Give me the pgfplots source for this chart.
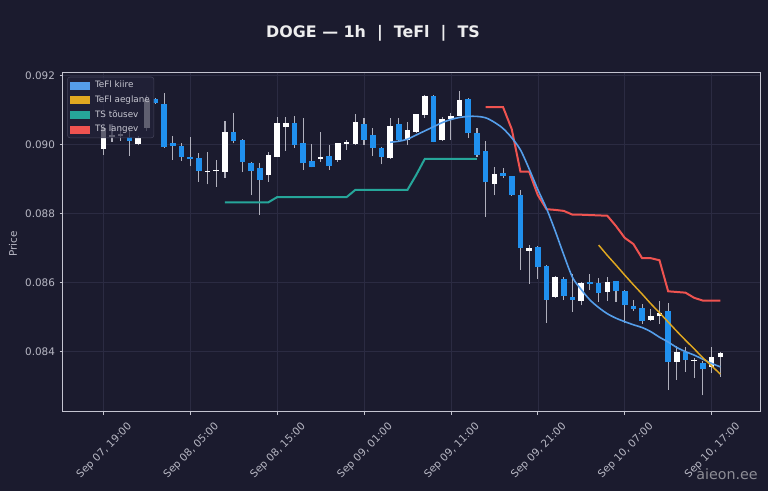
\documentclass[border=0pt]{standalone}
\usepackage{pgfplots}
\pgfplotsset{compat=1.18}
\usepackage{pgfplotstable}
\usepackage{fontspec}
\setmainfont{DejaVu Sans}

\definecolor{bg}{HTML}{1B1B2E}
\definecolor{gridc}{HTML}{2B2B42}
\definecolor{spine}{HTML}{C4C4D0}
\definecolor{tickc}{HTML}{B8B8C4}
\definecolor{wick}{HTML}{B0B0BC}
\definecolor{bearc}{HTML}{2090EE}
\definecolor{kiire}{HTML}{559EEA}
\definecolor{aeglane}{HTML}{E0A820}
\definecolor{tsup}{HTML}{26A69A}
\definecolor{tsdown}{HTML}{EF5350}
\definecolor{legbg}{HTML}{22223A}
\definecolor{legdraw}{HTML}{44445A}
\definecolor{legtext}{HTML}{C8C8D2}

% hourly candles, h = hours after Sep 07 19:00
\pgfplotstableread{
h o hi lo c
0 0.08988 0.09056 0.08970 0.09048
1 0.09022 0.09060 0.09008 0.09027
2 0.09025 0.09055 0.09012 0.09030
4 0.09002 0.09025 0.08998 0.09020
5 0.09048 0.09144 0.09040 0.09130
12 0.08921 0.08979 0.08885 0.08925
13 0.08923 0.08956 0.08878 0.08927
14 0.08921 0.09069 0.08904 0.09038
19 0.08912 0.08980 0.08893 0.08970
20 0.08965 0.09080 0.08963 0.09062
21 0.09052 0.09080 0.08983 0.09062
25 0.08958 0.09038 0.08951 0.08964
27 0.08956 0.09006 0.08951 0.09004
28 0.09002 0.09014 0.08985 0.09007
29 0.09002 0.09089 0.09000 0.09065
33 0.08961 0.09078 0.08959 0.09055
35 0.09014 0.09065 0.08999 0.09043
36 0.09038 0.09090 0.09035 0.09088
37 0.09086 0.09144 0.09078 0.09142
39 0.09014 0.09081 0.09011 0.09075
40 0.09075 0.09091 0.09014 0.09084
41 0.09084 0.09156 0.09083 0.09130
45 0.08886 0.08936 0.08854 0.08914
49 0.08693 0.08709 0.08596 0.08700
52 0.08559 0.08620 0.08557 0.08617
55 0.08548 0.08603 0.08534 0.08600
58 0.08574 0.08615 0.08547 0.08603
63 0.08492 0.08524 0.08490 0.08502
64 0.08502 0.08548 0.08480 0.08512
66 0.08371 0.08415 0.08318 0.08400
68 0.08373 0.08382 0.08323 0.08377
70 0.08357 0.08414 0.08338 0.08385
71 0.08384 0.08398 0.08328 0.08397
}\bull

\pgfplotstableread{
h o hi lo c
3 0.09023 0.09048 0.08967 0.09011
6 0.09131 0.09135 0.09118 0.09121
7 0.09118 0.09149 0.08990 0.08993
8 0.09004 0.09024 0.08956 0.08997
9 0.08996 0.09006 0.08953 0.08965
10 0.08965 0.09022 0.08937 0.08959
11 0.08961 0.08975 0.08893 0.08924
15 0.09038 0.09091 0.09004 0.09011
16 0.09014 0.09016 0.08922 0.08951
17 0.08948 0.08951 0.08854 0.08924
18 0.08932 0.08948 0.08796 0.08898
22 0.09062 0.09083 0.08990 0.08999
23 0.09004 0.09077 0.08927 0.08946
24 0.08954 0.09002 0.08934 0.08936
26 0.08967 0.08999 0.08927 0.08938
30 0.09059 0.09077 0.08999 0.09014
31 0.09028 0.09048 0.08968 0.08990
32 0.08991 0.08993 0.08943 0.08965
34 0.09059 0.09077 0.09011 0.09014
38 0.09142 0.09143 0.09007 0.09009
42 0.09133 0.09134 0.09020 0.09033
43 0.09033 0.09048 0.08965 0.08970
44 0.08982 0.09010 0.08791 0.08891
46 0.08917 0.08932 0.08903 0.08909
47 0.08909 0.08910 0.08852 0.08854
48 0.08854 0.08869 0.08637 0.08700
50 0.08704 0.08706 0.08611 0.08646
51 0.08648 0.08650 0.08484 0.08550
53 0.08610 0.08617 0.08550 0.08562
54 0.08559 0.08625 0.08515 0.08550
56 0.08602 0.08625 0.08579 0.08596
57 0.08598 0.08613 0.08545 0.08570
59 0.08604 0.08605 0.08544 0.08575
60 0.08577 0.08578 0.08482 0.08534
61 0.08533 0.08550 0.08518 0.08525
62 0.08527 0.08538 0.08480 0.08489
65 0.08518 0.08540 0.08289 0.08370
67 0.08400 0.08414 0.08342 0.08376
69 0.08367 0.08373 0.08273 0.08349
}\bear

\pgfplotstableread{
h v
33 0.09007
34 0.09010
35 0.09016
36 0.09028
37 0.09040
38 0.09052
39 0.09064
40 0.09073
41 0.09079
42 0.09082
43 0.09082
44 0.09078
45 0.09065
46 0.09047
47 0.09020
48 0.08985
49 0.08930
50 0.08870
51 0.08815
52 0.08750
53 0.08680
54 0.08615
55 0.08580
56 0.08550
57 0.08528
58 0.08510
59 0.08497
60 0.08487
61 0.08478
62 0.08470
63 0.08458
64 0.08442
65 0.08428
66 0.08412
67 0.08400
68 0.08390
69 0.08378
70 0.08366
71 0.08356
}\kiiretab

\pgfplotstableread{
h v
57 0.08709
58 0.08679
59 0.08651
60 0.08622
61 0.08594
62 0.08567
63 0.08539
64 0.08513
65 0.08486
66 0.08459
67 0.08433
68 0.08408
69 0.08382
70 0.08359
71 0.08335
}\aeglanetab

\pgfplotstableread{
h v
14 0.08833
19 0.08833
20 0.08848
28 0.08848
29 0.08869
35 0.08869
36 0.08912
37 0.08959
43 0.08959
}\tsuptab

\pgfplotstableread{
h v
44 0.09109
45 0.09109
46 0.09109
47 0.09045
48 0.08922
49 0.08922
50 0.08854
51 0.08813
52 0.08811
53 0.08808
54 0.08797
55 0.08797
56 0.08796
57 0.08795
58 0.08794
59 0.08764
60 0.08730
61 0.08712
62 0.08671
63 0.08671
64 0.08665
65 0.08575
66 0.08573
67 0.08571
68 0.08556
69 0.08548
70 0.08548
71 0.08548
}\tsdowntab

\pgfplotsset{
  candle/.style 2 args={forget plot, draw=none, mark=none,
    error bars/.cd, y dir=plus, y explicit, error mark=none,
    error bar style={draw=#1, line width=#2}},
  patch/.style={legend image code/.code={\fill[#1, sharp corners, fill opacity=1] (0pt,-2.6pt) rectangle (14.5pt,2.6pt);}},
}

\begin{document}
\begin{tikzpicture}
\path[use as bounding box, fill=bg] (0,0) rectangle (576pt,368.25pt);

\begin{axis}[
  at={(47.25pt,59.5pt)}, anchor=south west,
  scale only axis, width=522.75pt, height=254pt,
  xmin=-4.64, xmax=75.57, ymin=0.082261, ymax=0.092078,
  axis background/.style={fill=bg},
  axis line style={draw=spine, line width=0.75pt},
  grid=major, major grid style={draw=gridc, line width=0.45pt},
  tick align=outside, tick pos=left, major tick length=2.5pt,
  every tick/.style={draw=spine, line width=0.6pt},
  xtick={0,10,...,70},
  xticklabels={{Sep 07, 19:00},{Sep 08, 05:00},{Sep 08, 15:00},{Sep 09, 01:00},
               {Sep 09, 11:00},{Sep 09, 21:00},{Sep 10, 07:00},{Sep 10, 17:00}},
  ytick={0.084,0.086,0.088,0.090,0.092},
  scaled y ticks=false,
  yticklabel style={/pgf/number format/.cd, fixed, fixed zerofill, precision=3, assume math mode=true},
  ticklabel style={font=\fontsize{7.8}{9}\selectfont, text=tickc},
  xticklabel style={xshift=17.5pt, rotate=45, anchor=north east},
  legend cell align=left,
  legend style={at={(0.006,0.989)}, anchor=north west, fill=legbg, fill opacity=0.72,
    text opacity=1, draw=legdraw, rounded corners=2pt, text=legtext,
    font=\fontsize{6.6}{7.5}\selectfont, inner sep=1.8pt, row sep=2.1pt,
    nodes={inner sep=1.2pt}, column sep=2.8pt},
]
\addlegendimage{patch=kiire}
\addlegendentry{TeFl kiire}
\addlegendimage{patch=aeglane}
\addlegendentry{TeFl aeglane}
\addlegendimage{patch=tsup}
\addlegendentry{TS tõusev}
\addlegendimage{patch=tsdown}
\addlegendentry{TS langev}

% wicks
\addplot[candle={wick}{0.8pt}]
  table[x=h, y=lo, y error expr=\thisrow{hi}-\thisrow{lo}] {\bull};
\addplot[candle={wick}{0.8pt}]
  table[x=h, y=lo, y error expr=\thisrow{hi}-\thisrow{lo}] {\bear};

% bodies
\addplot[candle={white}{4.2pt}]
  table[x=h, y=o, y error expr=\thisrow{c}-\thisrow{o}] {\bull};
\addplot[candle={bearc}{4.2pt}]
  table[x=h, y=c, y error expr=\thisrow{o}-\thisrow{c}] {\bear};

% indicator lines
\addplot[forget plot, tsup, line width=1.5pt] table[x=h, y=v] {\tsuptab};
\addplot[forget plot, tsdown, line width=1.5pt] table[x=h, y=v] {\tsdowntab};
\addplot[forget plot, kiire, line width=1.2pt, smooth] table[x=h, y=v] {\kiiretab};
\addplot[forget plot, aeglane, line width=1.1pt] table[x=h, y=v] {\aeglanetab};
\end{axis}

\node[font=\fontsize{11.9}{14}\selectfont\bfseries, text=white!92!bg] at (279.75pt,343.5pt)
  {DOGE — 1h\ \ |\ \ TeFl\ \ |\ \ TS};
\node[font=\fontsize{7.8}{9}\selectfont, text=tickc, rotate=90] at (9.75pt,185.25pt) {Price};
\node[font=\fontsize{10.7}{12}\selectfont, text=white!50!bg, anchor=base east, inner sep=0pt] at (568.5pt,8.25pt) {aieon.ee};
\end{tikzpicture}
\end{document}
